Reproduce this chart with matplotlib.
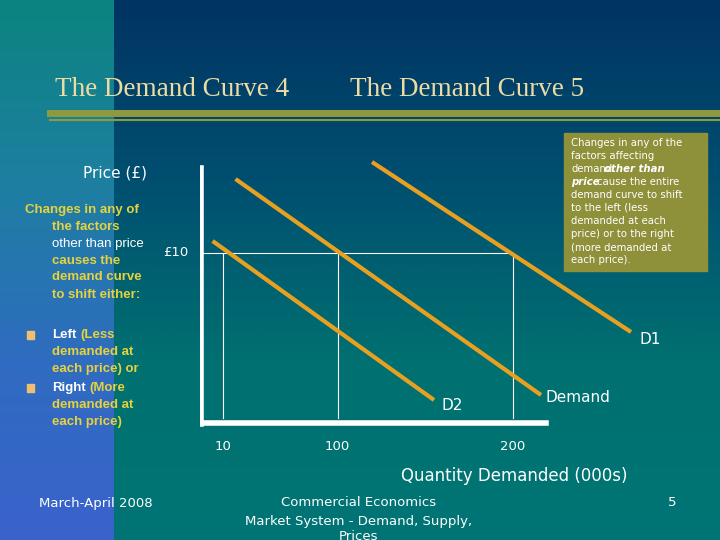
import numpy as np
import matplotlib
matplotlib.use("Agg")
import matplotlib.pyplot as plt
from matplotlib.colors import LinearSegmentedColormap

# data (chart units)
curve_names = ["D2", "Demand", "D1"]
curve_x = [[12.6, 234], [35.5, 341], [172, 431]]
curve_y = [[183, 24], [245, 29], [262, 92]]
price_level = 171
qty_ticks = [23, 137.5, 313]
qty_labels = ["10", "100", "200"]

fig = plt.figure(figsize=(7.2, 5.4), dpi=100)
bg = fig.add_axes([0, 0, 1, 1])
bg.set_xlim(0, 720); bg.set_ylim(540, 0); bg.axis("off")
cm_r = LinearSegmentedColormap.from_list("r", ["#003462", "#004f70", "#007070", "#007575"])
grad = np.linspace(0, 1, 256).reshape(-1, 1)
bg.imshow(grad, cmap=cm_r, extent=[0, 720, 540, 0], aspect="auto")
cm_l = LinearSegmentedColormap.from_list("l", ["#0b8480", "#1d7fa0", "#2f6cc0", "#3a62cc"])
bg.imshow(grad, cmap=cm_l, extent=[0, 114, 540, 0], aspect="auto")
bg.set_xlim(0, 720); bg.set_ylim(540, 0)

bg.plot([50, 720], [113, 113], color="#8f9a40", lw=5)
bg.plot([50, 720], [119.5, 119.5], color="#8f9a40", lw=1.5)
tc = "#ecdca4"
bg.text(55, 90, "The Demand Curve 4", color=tc, fontsize=19.5, family="Liberation Serif", va="center")
bg.text(350, 90, "The Demand Curve 5", color=tc, fontsize=19.5, family="Liberation Serif", va="center")

bg.add_patch(plt.Rectangle((564, 133), 143, 138, color="#8f903a", zorder=2))
by = 143
fs = 7.3
kw = dict(color="white", fontsize=fs, va="center", zorder=3)
bkw = dict(kw, style="italic", weight="bold")
bg.text(571, by, "Changes in any of the", **kw)
bg.text(571, by + 13, "factors affecting", **kw)
bg.text(571, by + 26, "demand", **kw)
bg.text(604, by + 26, "other than", **bkw)
bg.text(571, by + 39, "price", **bkw)
bg.text(597, by + 39, "cause the entire", **kw)
for i, s in enumerate(["demand curve to shift", "to the left (less", "demanded at each",
                       "price) or to the right", "(more demanded at", "each price)."]):
    bg.text(571, by + 52 + 13 * i, s, **kw)

bg.text(115, 173, "Price (£)", color="white", fontsize=11, ha="center", va="center")
yc = "#e6d23c"
lf = dict(family="Liberation Sans", fontsize=9.5, weight="bold", va="center")
bg.text(25, 210, "Changes in any of", color=yc, **lf)
bg.text(52, 227, "the factors", color=yc, **lf)
bg.text(52, 244, "other than price", color="white", family="Liberation Sans", fontsize=9.5, va="center")
bg.text(52, 261, "causes the", color=yc, **lf)
bg.text(52, 277, "demand curve", color=yc, **lf)
bg.text(52, 295, "to shift either:", color=yc, **lf)
for yy in (335, 388):
    bg.add_patch(plt.Rectangle((27, yy - 4), 7, 8, color="#f0c070"))
bg.text(52, 335, "Left", color="white", **lf); bg.text(80, 335, "(Less", color=yc, **lf)
bg.text(52, 352, "demanded at", color=yc, **lf)
bg.text(52, 369, "each price) or", color=yc, **lf)
bg.text(52, 388, "Right", color="white", **lf); bg.text(89, 388, "(More", color=yc, **lf)
bg.text(52, 405, "demanded at", color=yc, **lf)
bg.text(52, 422, "each price)", color=yc, **lf)

bg.text(96, 503, "March-April 2008", color="white", fontsize=9.5, ha="center", va="center")
bg.text(359, 503, "Commercial Economics", color="white", fontsize=9.5, ha="center", va="center")
bg.text(359, 521, "Market System - Demand, Supply,", color="white", fontsize=9.5, ha="center", va="center")
bg.text(359, 537, "Prices", color="white", fontsize=9.5, ha="center", va="center")
bg.text(672, 503, "5", color="white", fontsize=9.5, ha="center", va="center")

ax = fig.add_axes([200/720, 1 - 440/540, 460/720, 280/540])
ax.set_xlim(0, 460); ax.set_ylim(-16, 264); ax.axis("off")
ax.patch.set_alpha(0)
ax.plot([0, 313], [price_level, price_level], color="white", lw=0.8)
for q in qty_ticks:
    ax.plot([q, q], [6, price_level], color="white", lw=0.8)
for xs, ys in zip(curve_x, curve_y):
    ax.plot(xs, ys, color="#e8a020", lw=3, solid_capstyle="butt")
ax.plot([0.6, 0.6], [0, 256], color="white", lw=4)
ax.plot([-1, 346], [1, 1], color="white", lw=4)
for q, l in zip(qty_ticks, qty_labels):
    ax.text(q, -23, l, color="white", fontsize=9.5, ha="center", va="center", clip_on=False)
ax.text(-37, price_level, "£10", color="white", fontsize=9.5, va="center", clip_on=False)
ax.text(450, 84, "D1", color="white", fontsize=11, ha="center", va="center")
ax.text(378, 26, "Demand", color="white", fontsize=11, ha="center", va="center")
ax.text(252, 19, "D2", color="white", fontsize=11, ha="center", va="center")
ax.text(314, -52, "Quantity Demanded (000s)", color="white", fontsize=12, ha="center", va="center", clip_on=False)

fig.savefig("out.png", dpi=100)
